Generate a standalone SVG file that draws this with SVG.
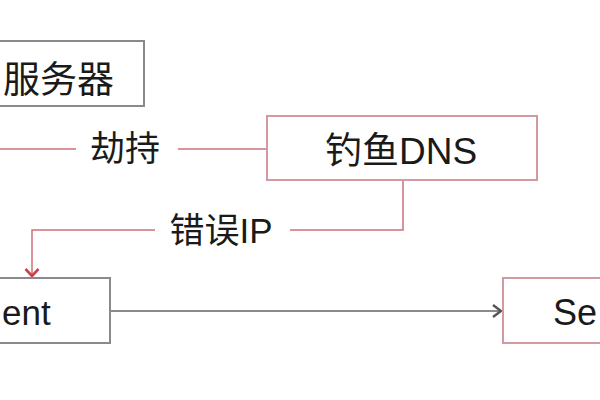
<svg xmlns="http://www.w3.org/2000/svg" width="600" height="400" viewBox="0 0 600 400">
<style>
.t{font-family:"Liberation Sans","Noto Sans CJK SC",sans-serif;fill:#1a1a1a}
.gbox{fill:#fff;stroke:#8a8a8a;stroke-width:2}
.rbox{fill:#fff;stroke:#d49aa2;stroke-width:2}
.rl{fill:none;stroke:#cf6f7a;stroke-width:1.5}
.gl{fill:none;stroke:#8a8a8a;stroke-width:2}
</style>
<defs>
<marker id="ra" markerWidth="16" markerHeight="16" refX="8" refY="8" orient="auto" markerUnits="userSpaceOnUse">
<path d="M1,1.5 L8,8 L1,14.5" fill="none" stroke="#c8434f" stroke-width="2.6"/>
</marker>
<marker id="ga" markerWidth="16" markerHeight="16" refX="10" refY="8" orient="auto" markerUnits="userSpaceOnUse">
<path d="M2,2 L10,8 L2,14" fill="none" stroke="#555" stroke-width="2.4"/>
</marker>
</defs>
<rect width="600" height="400" fill="#fff"/>
<g id="connectors">
<line class="rl" x1="0" y1="149" x2="76" y2="149"/>
<line class="rl" x1="178" y1="149" x2="267" y2="149"/>
<polyline class="rl" points="403,180 403,230 290,230"/>
<polyline class="rl" points="155,230 32,230 32,276" marker-end="url(#ra)"/>
<line class="gl" x1="110" y1="311" x2="501" y2="311" marker-end="url(#ga)"/>
<text class="t" x="125" y="161" font-size="35" text-anchor="middle">劫持</text>
<text class="t" x="221" y="243" font-size="35" text-anchor="middle">错误IP</text>
</g>
<g id="server-top">
<rect class="gbox" x="-10" y="41" width="154" height="65"/>
<text class="t" x="3" y="93" font-size="37">服务器</text>
</g>
<g id="phish-dns">
<rect class="rbox" x="267" y="116" width="270" height="64"/>
<text class="t" x="401" y="164" font-size="37" text-anchor="middle">钓鱼DNS</text>
</g>
<g id="client">
<rect class="gbox" x="-10" y="278" width="120" height="65"/>
<text class="t" x="2" y="325" font-size="35">ent</text>
</g>
<g id="server">
<rect class="rbox" x="503" y="278" width="110" height="65"/>
<text class="t" x="553" y="325" font-size="36">Se</text>
</g>
</svg>
